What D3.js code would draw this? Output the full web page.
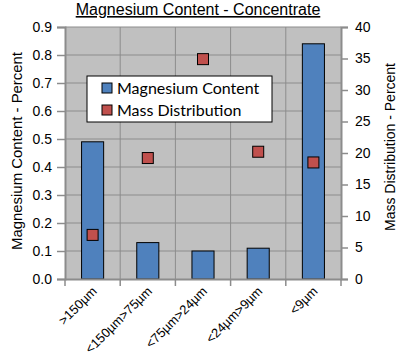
<!DOCTYPE html>
<html><head><meta charset="utf-8">
<script src="https://cdn.jsdelivr.net/npm/d3@7"></script>
<style>body{margin:0;background:#fff}svg{display:block}</style>
</head><body>
<svg id="c" width="403" height="361"></svg>
<script>
const categories = [">150µm", "<150µm>75µm", "<75µm>24µm", "<24µm>9µm", "<9µm"];
const magnesium = [0.49, 0.13, 0.10, 0.11, 0.84];
const massDist = [7.0, 19.2, 34.9, 20.2, 18.5];
const leftTicks = [0, 0.1, 0.2, 0.3, 0.4, 0.5, 0.6, 0.7, 0.8, 0.9];
const rightTicks = [0, 5, 10, 15, 20, 25, 30, 35, 40];

const svg = d3.select("#c");
const L = 65, R = 341, T = 27, B = 279;
const x = d3.scaleBand().domain(categories).range([L, R]).paddingInner(0.6).paddingOuter(0.3);
const xb = d3.scaleBand().domain(categories).range([L, R]);
const yL = d3.scaleLinear().domain([0, 0.9]).range([B, T]);
const yR = d3.scaleLinear().domain([0, 40]).range([B, T]);
const font = "'Liberation Sans', Arial, sans-serif";

svg.append("rect").attr("x", L).attr("y", T).attr("width", R - L).attr("height", B - T).attr("fill", "#c0c0c0");

// horizontal grid
svg.append("g").selectAll("line").data(leftTicks.slice(1)).join("line")
  .attr("x1", L).attr("x2", R).attr("y1", d => yL(d)).attr("y2", d => yL(d))
  .attr("stroke", "#8c8c8c").attr("stroke-width", 1);
// vertical grid
svg.append("g").selectAll("line").data(categories.slice(1)).join("line")
  .attr("x1", d => xb(d)).attr("x2", d => xb(d)).attr("y1", T).attr("y2", B)
  .attr("stroke", "#8c8c8c").attr("stroke-width", 1);

// bars
svg.append("g").selectAll("rect").data(magnesium).join("rect")
  .attr("x", (d, i) => x(categories[i])).attr("width", x.bandwidth())
  .attr("y", d => yL(d)).attr("height", d => B - yL(d))
  .attr("fill", "#4f81bd").attr("stroke", "#000").attr("stroke-width", 1);

// markers
const ms = 11;
svg.append("g").selectAll("rect").data(massDist).join("rect")
  .attr("x", (d, i) => xb(categories[i]) + xb.bandwidth() / 2 - ms / 2)
  .attr("y", d => yR(d) - ms / 2).attr("width", ms).attr("height", ms)
  .attr("fill", "#c0504d").attr("stroke", "#000").attr("stroke-width", 1);

// axes
const gL = svg.append("g").attr("transform", `translate(${L},0)`)
  .call(d3.axisLeft(yL).tickValues(leftTicks).tickFormat(d3.format(".1f")).tickSize(8).tickPadding(5));
const gR = svg.append("g").attr("transform", `translate(${R},0)`)
  .call(d3.axisRight(yR).tickValues(rightTicks).tickSize(7).tickPadding(7));
const gB = svg.append("g").attr("transform", `translate(0,${B})`)
  .call(d3.axisBottom(xb).tickSize(0).tickFormat(""));
[gL, gR, gB].forEach(g => {
  g.select(".domain").attr("stroke", "#8c8c8c").attr("stroke-width", 2);
  g.selectAll(".tick line").attr("stroke", "#8c8c8c").attr("stroke-width", 1.5);
  g.selectAll("text").attr("font-family", font).attr("font-size", 14).attr("fill", "#000");
});
// bottom boundary ticks
svg.append("g").selectAll("line").data(d3.range(categories.length + 1)).join("line")
  .attr("x1", i => L + i * xb.step()).attr("x2", i => L + i * xb.step())
  .attr("y1", B).attr("y2", B + 7).attr("stroke", "#8c8c8c").attr("stroke-width", 1.5);

// x labels
svg.append("g").selectAll("text").data(categories).join("text")
  .attr("transform", d => `translate(${xb(d) + xb.bandwidth() / 2 + 5},${B + 13}) rotate(-45)`)
  .attr("text-anchor", "end").attr("font-family", font).attr("font-size", 13).text(d => d);

// title
svg.append("text").attr("x", 198).attr("y", 15).attr("text-anchor", "middle")
  .attr("font-family", font).attr("font-size", 16).attr("text-decoration", "underline")
  .text("Magnesium Content - Concentrate");

// axis titles
svg.append("text").attr("transform", "translate(22,151) rotate(-90)").attr("text-anchor", "middle")
  .attr("font-family", "'Liberation Sans Narrow', " + font).attr("font-size", 15)
  .attr("textLength", 198).attr("lengthAdjust", "spacingAndGlyphs")
  .text("Magnesium Content - Percent");
svg.append("text").attr("transform", "translate(395,147) rotate(-90)").attr("text-anchor", "middle")
  .attr("font-family", "'Liberation Sans Narrow', " + font).attr("font-size", 15)
  .attr("textLength", 168).attr("lengthAdjust", "spacingAndGlyphs")
  .text("Mass Distribution - Percent");

// legend
const lg = svg.append("g");
lg.append("rect").attr("x", 87).attr("y", 76).attr("width", 185).attr("height", 46)
  .attr("fill", "#fff").attr("stroke", "#000").attr("stroke-width", 1);
const items = [["Magnesium Content", "#4f81bd"], ["Mass Distribution", "#c0504d"]];
lg.selectAll("g").data(items).join("g")
  .attr("transform", (d, i) => `translate(102,${88 + i * 22})`)
  .each(function(d) {
    const g = d3.select(this);
    g.append("rect").attr("x", 0).attr("y", -5).attr("width", 10).attr("height", 10)
      .attr("fill", d[1]).attr("stroke", "#000");
    g.append("text").attr("x", 15).attr("y", 5.5).attr("font-family", "Lato, 'Open Sans', sans-serif")
      .attr("font-size", 16).text(d[0]);
  });
</script>
</body></html>
